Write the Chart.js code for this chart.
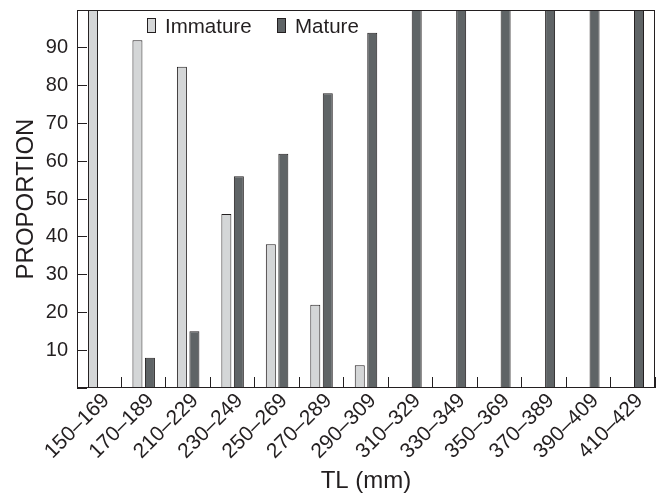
<!DOCTYPE html>
<html><head><meta charset="utf-8">
<script src="https://cdn.jsdelivr.net/npm/chart.js@4/dist/chart.umd.min.js"></script>
<style>
html,body{margin:0;padding:0;background:#fff;}
#wrap{position:relative;width:657px;height:496px;}
canvas{display:block;}
.lg{position:absolute;font:20.5px "Liberation Sans",Arial,sans-serif;color:#231f20;line-height:20px;white-space:nowrap;}
.box{position:absolute;width:9px;height:15px;box-sizing:border-box;border:1px solid #231f20;}
</style></head><body>
<div id="wrap"><canvas id="c" width="657" height="496"></canvas>
<div class="box" style="left:147px;top:18px;background:#d4d6d7"></div><div class="lg" style="left:165px;top:16px">Immature</div>
<div class="box" style="left:277px;top:18px;background:#5f6466"></div><div class="lg" style="left:295px;top:16px">Mature</div>
</div>
<script>
const categories = ['150–169','170–189','210–229','230–249','250–269','270–289','290–309','310–329','330–349','350–369','370–389','390–409','410–429'];
const immature = [100,92,85,46,38,22,6,0,0,0,0,0,0];
const mature = [0,8,15,56,62,78,94,100,100,100,100,100,100];
const yHidden = [0,100];

const INK = '#231f20';
Chart.defaults.font.family = '"Liberation Sans", Arial, sans-serif';
Chart.defaults.color = INK;

const frame = {
  id:'frame',
  afterDatasetsDraw(chart){
    const a = chart.chartArea, ctx = chart.ctx;
    ctx.save();
    ctx.strokeStyle = INK; ctx.lineWidth = 1;
    ctx.strokeRect(Math.round(a.left)+0.5, Math.round(a.top)+0.5, Math.round(a.right-a.left)-1, Math.round(a.bottom-a.top)-1);
    ctx.restore();
  }
};

new Chart(document.getElementById('c'), {
  type:'bar',
  data:{
    labels: categories,
    datasets:[
      {label:'Immature', data: immature, backgroundColor:'#d4d6d7', borderColor:INK, borderWidth:1, categoryPercentage:0.562, barPercentage:0.8},
      {label:'Mature', data: mature, backgroundColor:'#5f6466', borderColor:INK, borderWidth:1, categoryPercentage:0.562, barPercentage:0.8}
    ]
  },
  options:{
    responsive:false, animation:false,
    layout:{padding:{top:10,right:2,left:0,bottom:0}},
    plugins:{legend:{display:false}, tooltip:{enabled:false}},
    scales:{
      x:{
        offset:true,
        grid:{offset:true, drawOnChartArea:false, drawTicks:true, tickLength:-11, color:INK, lineWidth:1},
        border:{display:false},
        ticks:{maxRotation:45, minRotation:45, autoSkip:false, padding:16, labelOffset:7, font:{size:21, lineHeight:0.6}, color:INK},
        title:{display:true, text:'TL (mm)', font:{size:24}, color:INK, padding:{top:0,bottom:0}},
        afterFit(s){ s.height = 108; s.paddingLeft = 0; s.paddingRight = 0; }
      },
      y:{
        min:0, max:100,
        grid:{drawOnChartArea:false, drawTicks:true, tickLength:-10, color:INK, lineWidth:1},
        border:{display:false},
        ticks:{stepSize:10, padding:19, font:{size:20}, color:INK, callback:(v)=> yHidden.includes(v) ? '' : v},
        title:{display:true, text:'PROPORTION', font:{size:24}, color:INK, padding:{top:12,bottom:0}},
        afterFit(s){ s.width = 77; s.paddingTop = 0; s.paddingBottom = 0; }
      }
    }
  },
  plugins:[frame]
});
</script>
</body></html>
